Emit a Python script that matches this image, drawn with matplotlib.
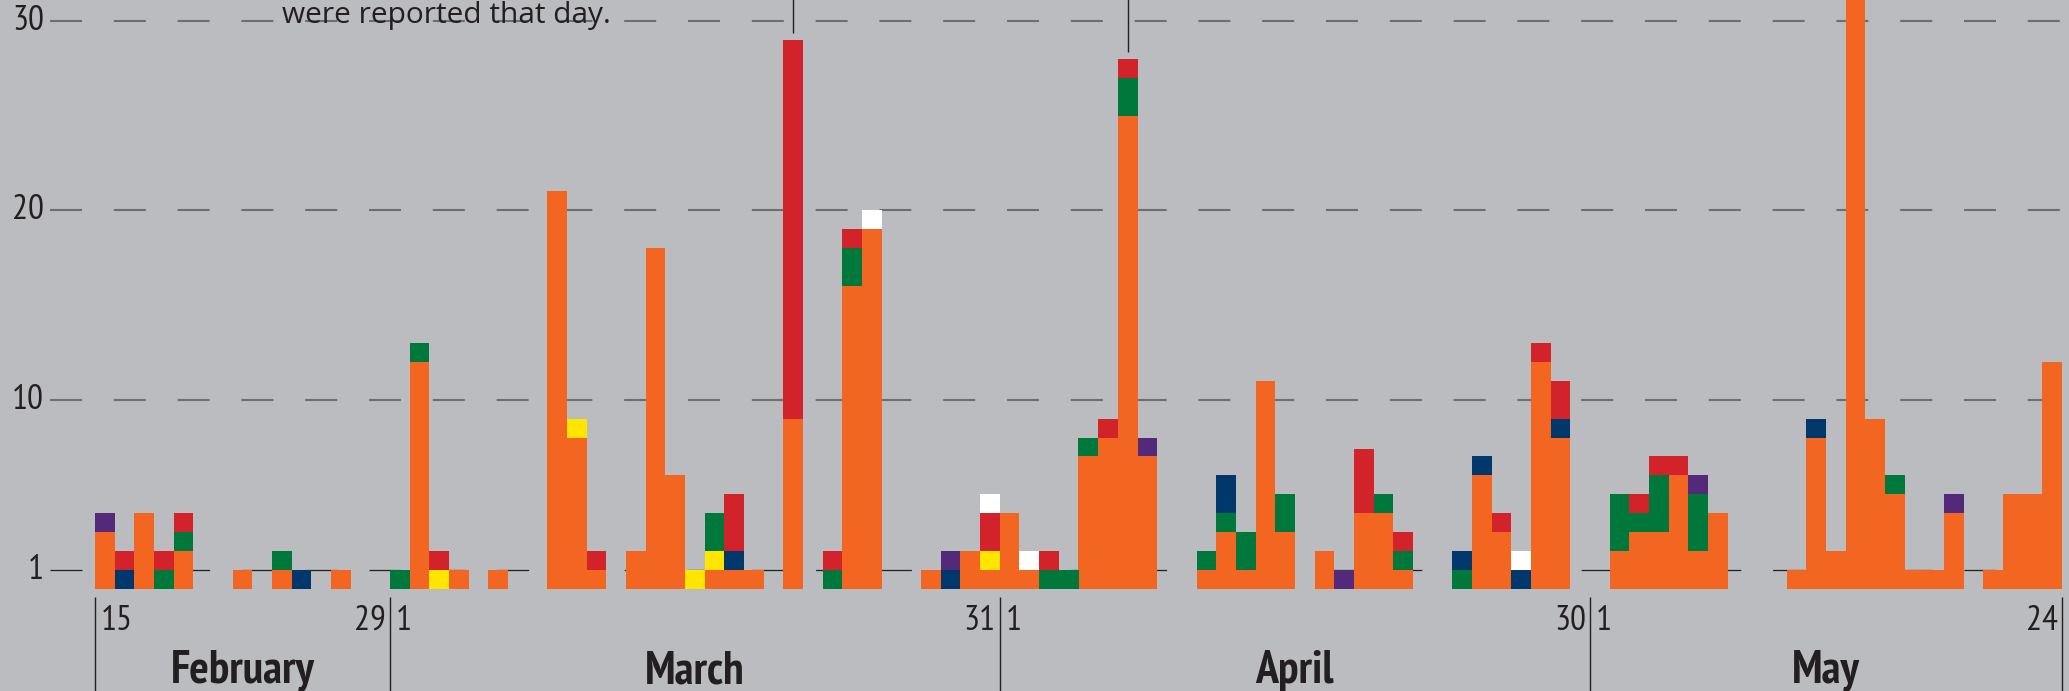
import matplotlib
matplotlib.use("Agg")
import matplotlib.pyplot as plt
from matplotlib import font_manager as fm
import numpy as np

# ---------------- data ----------------
start_date = "2016-02-15"          # first day shown (day index 0)
months = ["February", "March", "April", "May"]
month_first_day = [15, 1, 1, 1]
month_last_day = [29, 31, 30, 24]
y_ticks = [1, 10, 20, 30]
y_ticklabels = ["1", "10", "20", "30"]

# daily counts per category (stack order bottom -> top), 100 days
orange = [3, 0, 4, 0, 2, 0, 0, 1, 0, 1,
          0, 0, 1, 0, 0, 0, 12, 0, 1, 0,
          1, 0, 0, 21, 8, 1, 0, 2, 18, 6,
          0, 1, 1, 1, 0, 9, 0, 0, 16, 19,
          0, 0, 1, 0, 2, 1, 4, 1, 0, 0,
          7, 8, 25, 7, 0, 0, 1, 3, 1, 11,
          3, 0, 2, 0, 4, 4, 1, 0, 0, 0,
          6, 3, 0, 12, 8, 0, 0, 2, 3, 3,
          6, 2, 4, 0, 0, 0, 1, 8, 2, 33,
          9, 5, 1, 1, 4, 0, 1, 5, 5, 12]
yellow = [0, 0, 0, 0, 0, 0, 0, 0, 0, 0,
          0, 0, 0, 0, 0, 0, 0, 1, 0, 0,
          0, 0, 0, 0, 1, 0, 0, 0, 0, 0,
          1, 1, 0, 0, 0, 0, 0, 0, 0, 0,
          0, 0, 0, 0, 0, 1, 0, 0, 0, 0,
          0, 0, 0, 0, 0, 0, 0, 0, 0, 0,
          0, 0, 0, 0, 0, 0, 0, 0, 0, 0,
          0, 0, 0, 0, 0, 0, 0, 0, 0, 0,
          0, 0, 0, 0, 0, 0, 0, 0, 0, 0,
          0, 0, 0, 0, 0, 0, 0, 0, 0, 0]
green = [0, 0, 0, 1, 1, 0, 0, 0, 0, 1,
         0, 0, 0, 0, 0, 1, 1, 0, 0, 0,
         0, 0, 0, 0, 0, 0, 0, 0, 0, 0,
         0, 2, 0, 0, 0, 0, 0, 1, 2, 0,
         0, 0, 0, 0, 0, 0, 0, 0, 1, 1,
         1, 0, 2, 0, 0, 0, 1, 1, 2, 0,
         2, 0, 0, 0, 0, 1, 1, 0, 0, 1,
         0, 0, 0, 0, 0, 0, 0, 3, 1, 3,
         0, 3, 0, 0, 0, 0, 0, 0, 0, 0,
         0, 1, 0, 0, 0, 0, 0, 0, 0, 0]
navy = [0, 1, 0, 0, 0, 0, 0, 0, 0, 0,
        1, 0, 0, 0, 0, 0, 0, 0, 0, 0,
        0, 0, 0, 0, 0, 0, 0, 0, 0, 0,
        0, 0, 1, 0, 0, 0, 0, 0, 0, 0,
        0, 0, 0, 1, 0, 0, 0, 0, 0, 0,
        0, 0, 0, 0, 0, 0, 0, 2, 0, 0,
        0, 0, 0, 0, 0, 0, 0, 0, 0, 1,
        1, 0, 1, 0, 1, 0, 0, 0, 0, 0,
        0, 0, 0, 0, 0, 0, 0, 1, 0, 0,
        0, 0, 0, 0, 0, 0, 0, 0, 0, 0]
red = [0, 1, 0, 1, 1, 0, 0, 0, 0, 0,
       0, 0, 0, 0, 0, 0, 0, 1, 0, 0,
       0, 0, 0, 0, 0, 1, 0, 0, 0, 0,
       0, 0, 3, 0, 0, 20, 0, 1, 1, 0,
       0, 0, 0, 0, 0, 2, 0, 0, 1, 0,
       0, 1, 1, 0, 0, 0, 0, 0, 0, 0,
       0, 0, 0, 0, 3.4, 0, 1, 0, 0, 0,
       0, 1, 0, 1, 2, 0, 0, 0, 1, 1,
       1, 0, 0, 0, 0, 0, 0, 0, 0, 0,
       0, 0, 0, 0, 0, 0, 0, 0, 0, 0]
white = [0, 0, 0, 0, 0, 0, 0, 0, 0, 0,
         0, 0, 0, 0, 0, 0, 0, 0, 0, 0,
         0, 0, 0, 0, 0, 0, 0, 0, 0, 0,
         0, 0, 0, 0, 0, 0, 0, 0, 0, 1,
         0, 0, 0, 0, 0, 1, 0, 1, 0, 0,
         0, 0, 0, 0, 0, 0, 0, 0, 0, 0,
         0, 0, 0, 0, 0, 0, 0, 0, 0, 0,
         0, 0, 1, 0, 0, 0, 0, 0, 0, 0,
         0, 0, 0, 0, 0, 0, 0, 0, 0, 0,
         0, 0, 0, 0, 0, 0, 0, 0, 0, 0]
purple = [1, 0, 0, 0, 0, 0, 0, 0, 0, 0,
          0, 0, 0, 0, 0, 0, 0, 0, 0, 0,
          0, 0, 0, 0, 0, 0, 0, 0, 0, 0,
          0, 0, 0, 0, 0, 0, 0, 0, 0, 0,
          0, 0, 0, 1, 0, 0, 0, 0, 0, 0,
          0, 0, 0, 1, 0, 0, 0, 0, 0, 0,
          0, 0, 0, 1, 0, 0, 0, 0, 0, 0,
          0, 0, 0, 0, 0, 0, 0, 0, 0, 0,
          0, 1, 0, 0, 0, 0, 0, 0, 0, 0,
          0, 0, 0, 0, 1, 0, 0, 0, 0, 0]

annotation_text = "were reported that day."
annotated_days = [35, 52]

# ---------------- style ----------------
BG = "#bbbcc0"
DARK = "#231f20"
GRID = "#6d6e71"
series = [
    (orange, "#f36622"),
    (yellow, "#ffe500"),
    (green, "#00773b"),
    (navy, "#00386b"),
    (red, "#d2232a"),
    (white, "#ffffff"),
    (purple, "#532a7a"),
]

plt.rcParams["lines.scale_dashes"] = False


def pick_family():
    names = {f.name for f in fm.fontManager.ttflist}
    for cand in ["PT Sans Narrow", "Roboto Condensed", "Liberation Sans Narrow",
                 "Open Sans Condensed", "Noto Sans Condensed"]:
        if cand in names:
            return cand
    return "Liberation Sans"


FAM = pick_family()
NOTE_FAM = ["Open Sans", FAM, "DejaVu Sans"]
TICK_FS = 25.5
MONTH_FS = 33
NOTE_FS = 21.5

# ---------------- layout (pixels) ----------------
W, H, DPI = 2069, 691, 100
X0 = 95.0        # left edge of first day
DAY = 19.67      # px per day
BASE = 589.0     # px from top of value 0
UNIT = 18.93     # px per unit


def dx(px):
    return (px - X0) / DAY


def vy(py):
    return (BASE - py) / UNIT


fig = plt.figure(figsize=(W / DPI, H / DPI), dpi=DPI, facecolor=BG)
ax = fig.add_axes([0, 0, 1, 1])
ax.set_facecolor(BG)
ax.set_xlim(dx(0), dx(W))
ax.set_ylim(vy(H), vy(0))
ax.axis("off")

n = len(orange)
x = np.arange(n)

# gridlines
on_pt, off_pt = 32 * 72 / DPI, 31.8 * 72 / DPI
for t, lab in zip(y_ticks, y_ticklabels):
    if t == 1:
        col, lw = DARK, 0.9
    else:
        col, lw = GRID, 1.5
    ax.plot([dx(50), dx(W + 5)], [t, t], color=col, lw=lw,
            linestyle=(0, (on_pt, off_pt)), solid_capstyle="butt",
            dash_capstyle="butt", zorder=1)
    ax.text(dx(44), t, lab, ha="right", va="center", fontsize=TICK_FS,
            family=FAM, color=DARK, zorder=5)

# stacked bars
bottom = np.zeros(n)
for vals, col in series:
    v = np.array(vals, dtype=float)
    m = v > 0
    ax.bar(x[m], v[m], width=1.0, bottom=bottom[m], align="edge", color=col,
           linewidth=0, antialiased=False, zorder=3)
    bottom += v
total = bottom

# annotation leader lines and text
for d in annotated_days:
    ax.plot([d + 0.5, d + 0.5], [total[d] + 0.37, vy(-5)], color=DARK,
            lw=1.0, zorder=4, solid_capstyle="butt")
ax.text(dx(282), vy(23), annotation_text, ha="left", va="baseline",
        fontsize=NOTE_FS, family=NOTE_FAM, color=DARK, zorder=5)

# month separators and labels
lengths = [l - f + 1 for f, l in zip(month_first_day, month_last_day)]
edges = np.concatenate([[0], np.cumsum(lengths)])
for e in edges:
    ax.plot([e, e], [vy(597), vy(H + 5)], color=DARK, lw=1.0, zorder=4,
            solid_capstyle="butt")
for i, name in enumerate(months):
    s, e = edges[i], edges[i + 1]
    ax.text(s + 6 / DAY, vy(630), str(month_first_day[i]), ha="left",
            va="baseline", fontsize=TICK_FS, family=FAM, color=DARK)
    ax.text(e - 4 / DAY, vy(630), str(month_last_day[i]), ha="right",
            va="baseline", fontsize=TICK_FS, family=FAM, color=DARK)
    ax.text((s + e) / 2, vy(683), name, ha="center", va="baseline",
            fontsize=MONTH_FS, fontweight="bold", family=FAM, color=DARK)

fig.savefig("out.png", dpi=DPI, facecolor=BG)
